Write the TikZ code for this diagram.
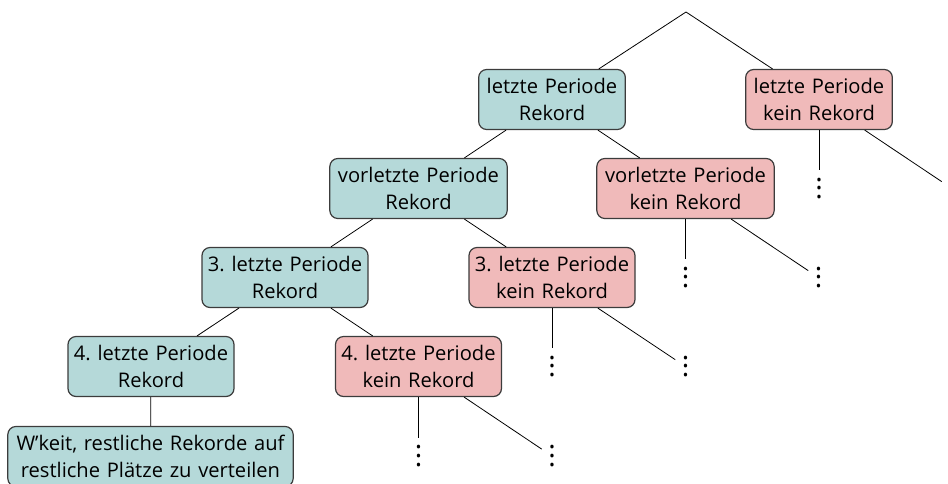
\documentclass[tikz,border=0pt]{standalone}
\usepackage{fontspec}
\setmainfont{Open Sans}
\definecolor{tealfill}{HTML}{B5D9D9}
\definecolor{pinkfill}{HTML}{F0BABA}
\definecolor{framegray}{HTML}{3C3C3C}
% three stacked dots for a subtree that is not drawn
\newcommand\stackdots{\fontsize{21}{21}\selectfont\lower2.4pt\vbox{\baselineskip=6.4pt\lineskiplimit=0pt\hbox{.}\hbox{.}\hbox{.}}}
\begin{document}
\frenchspacing
\begin{tikzpicture}[x=0.75pt,y=-0.75pt,
  every node/.style={font=\fontsize{15.1}{20.25}\selectfont},
  state/.style={draw=framegray, line width=0.9pt, rounded corners=6pt,
    align=center, inner xsep=0pt, inner ysep=2pt, minimum height=45pt},
  hit/.style={state, fill=tealfill, text width=#1},
  miss/.style={state, fill=pinkfill, text width=#1},
  more/.style={inner sep=0pt, minimum width=15pt, minimum height=27pt},
  edge/.style={draw=black, line width=0.6pt}]
\useasboundingbox (0,0) rectangle (948,483);
\clip (0,0) rectangle (948,483);

\coordinate (root) at (686,12);

% level 1
\node[hit=110pt]  (r1) at (552,99.5) {letzte Periode\\Rekord};
\node[miss=110pt] (k1) at (819,99.5) {letzte Periode\\kein Rekord};
% level 2
\node[hit=133pt]  (r2) at (418.5,188.5) {vorletzte Periode\\Rekord};
\node[miss=133pt] (k2) at (685.5,188.5) {vorletzte Periode\\kein Rekord};
% level 3
\node[hit=124.5pt]  (r3) at (285,277.5) {3. letzte Periode\\Rekord};
\node[miss=124.5pt] (k3) at (552,277.5) {3. letzte Periode\\kein Rekord};
% level 4
\node[hit=124.5pt]  (r4) at (151,366.5) {4. letzte Periode\\Rekord};
\node[miss=124.5pt] (k4) at (418.5,366.5) {4. letzte Periode\\kein Rekord};
% leaf
\node[hit=214pt] (w) at (150.5,456.5) {W’keit, restliche Rekorde auf\\restliche Plätze zu verteilen};

% open subtrees below the "kein Rekord" nodes
\node[more] (k1a) at (819,188.5) {\stackdots};
\node[more] (k1b) at (952,188.5) {\stackdots};
\node[more] (k2a) at (685.5,277.5) {\stackdots};
\node[more] (k2b) at (818.5,277.5) {\stackdots};
\node[more] (k3a) at (552,366.5) {\stackdots};
\node[more] (k3b) at (685.5,366.5) {\stackdots};
\node[more] (k4a) at (418.5,456) {\stackdots};
\node[more] (k4b) at (552,456) {\stackdots};

% connectors
\draw[edge] (root) -- (r1);
\draw[edge] (root) -- (k1);
\draw[edge] (r1) -- (r2);
\draw[edge] (r1) -- (k2);
\draw[edge] (r2) -- (r3);
\draw[edge] (r2) -- (k3);
\draw[edge] (r3) -- (r4);
\draw[edge] (r3) -- (k4);
\draw[edge] (r4) -- (w);
\draw[edge] (k1) -- (k1a);
\draw[edge] (k1) -- (k1b);
\draw[edge] (k2) -- (k2a);
\draw[edge] (k2) -- (k2b);
\draw[edge] (k3) -- (k3a);
\draw[edge] (k3) -- (k3b);
\draw[edge] (k4) -- (k4a);
\draw[edge] (k4) -- (k4b);
\end{tikzpicture}
\end{document}
